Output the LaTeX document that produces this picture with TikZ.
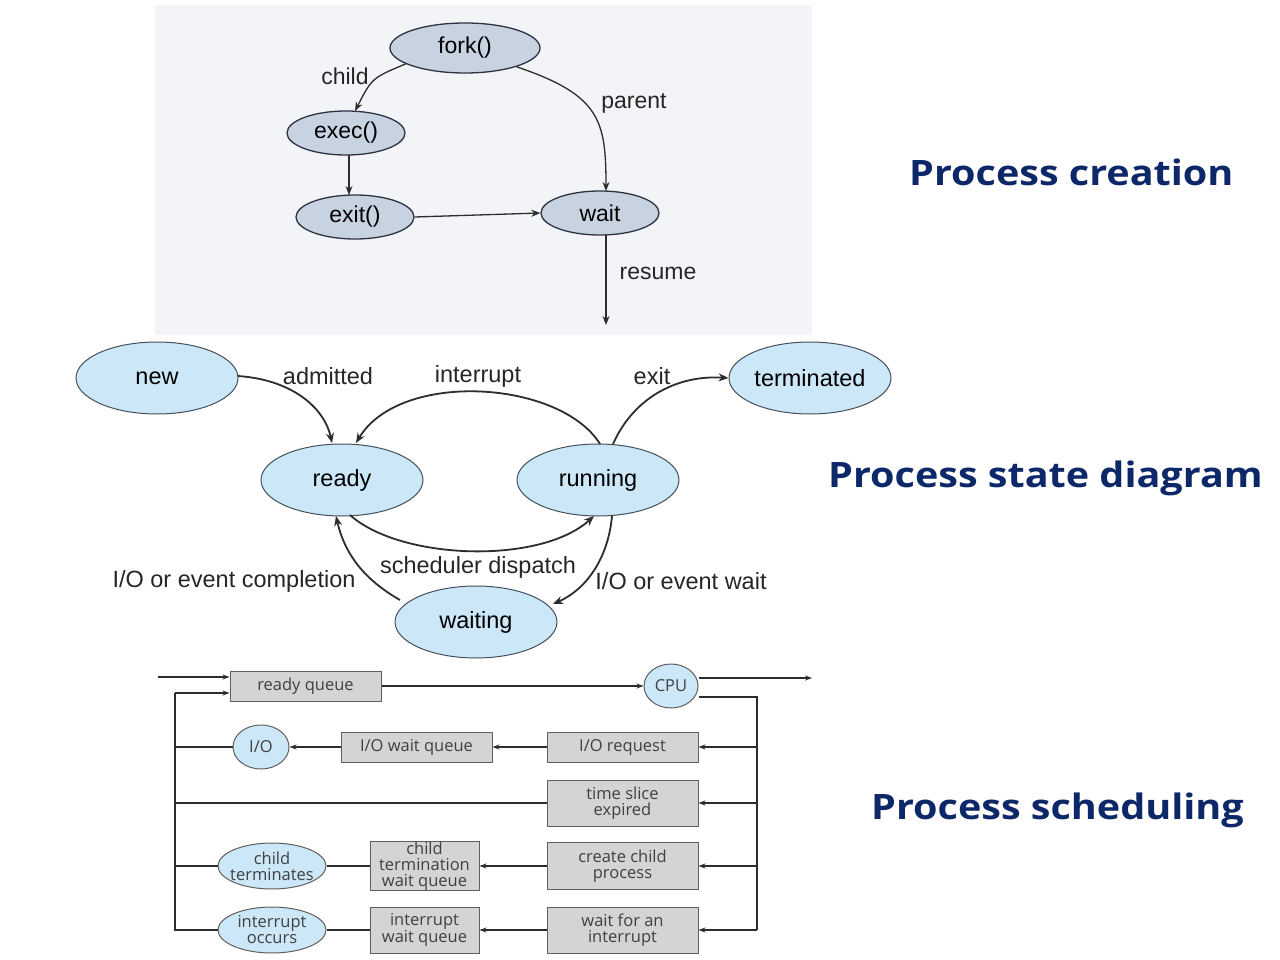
\documentclass[tikz,border=0pt]{standalone}
\usepackage{fontspec}
\setmainfont{Liberation Sans}
\newfontfamily\titlefont{Open Sans}[FakeStretch=1.13]
\newfontfamily\schedfont{Open Sans}
\usetikzlibrary{shapes.geometric,arrows.meta}
\definecolor{navy}{RGB}{13,40,105}
\definecolor{pcfill}{RGB}{200,211,226}
\definecolor{pcedge}{RGB}{45,50,65}
\definecolor{stfill}{RGB}{204,232,248}
\definecolor{stedge}{RGB}{70,80,90}
\definecolor{bgbox}{RGB}{243,244,248}
\definecolor{qfill}{RGB}{212,212,212}
\definecolor{qedge}{RGB}{95,95,95}
\definecolor{ln}{RGB}{45,45,45}
\tikzset{
  pcnode/.style={ellipse, draw=pcedge, line width=1.3pt, fill=pcfill, inner sep=0pt, font=\fontsize{23}{25}\selectfont},
  stnode/.style={ellipse, draw=stedge, line width=1pt, fill=stfill, inner sep=0pt, minimum width=162pt, minimum height=72pt, font=\fontsize{23.5}{25}\selectfont},
  lbl/.style={inner sep=0pt, font=\fontsize{23}{25}\selectfont, text=black!85},
  stlbl/.style={inner sep=0pt, font=\fontsize{23.5}{25}\selectfont, text=black!85},
  pcarrow/.style={-{Stealth[length=9pt,width=7pt]}, line width=1.3pt, draw=ln},
  starrow/.style={-{Stealth[length=10pt,width=8pt]}, line width=1.8pt, draw=ln},
  qbox/.style={rectangle, draw=qedge, line width=1pt, fill=qfill, inner sep=0pt, align=center, font=\schedfont\fontsize{16.5}{16}\selectfont, text=black!75},
  qcirc/.style={ellipse, draw=qedge, line width=1pt, fill=stfill, inner sep=0pt, align=center, font=\schedfont\fontsize{16.5}{16}\selectfont, text=black!75},
  qline/.style={line width=1.6pt, draw=ln},
  qarrow/.style={-{Stealth[length=7pt,width=5pt]}, line width=1.6pt, draw=ln},
  title/.style={inner sep=0pt, anchor=west, text=navy, font=\titlefont\bfseries\fontsize{35}{40}\selectfont},
}
\begin{document}
\begin{tikzpicture}[x=1pt,y=-1pt]
\useasboundingbox (0,0) rectangle (1280,960);
\fill[white] (0,0) rectangle (1280,960);
% ---------- Process creation ----------
\fill[bgbox] (155,5) rectangle (812,335);
\node[pcnode, minimum width=150pt, minimum height=50pt] (fork) at (465,48) {fork()};
\node[pcnode, minimum width=118pt, minimum height=44pt] (exec) at (346,133) {exec()};
\node[pcnode, minimum width=118pt, minimum height=44pt] (exit) at (355,217) {exit()};
\node[pcnode, minimum width=118pt, minimum height=44pt] (wait) at (600,213) {wait};
\coordinate (resumeend) at (606,325);
\draw[pcarrow] (fork.195) .. controls (372,78) .. (355,111);
\draw[pcarrow] (fork.-20) .. controls (600,95) and (606,120) .. (606,191);
\draw[pcarrow] (349,155) -- (349,195);
\draw[pcarrow] (exit.east) -- (wait.west);
\draw[pcarrow] (606,235) -- (resumeend);
\node[lbl] at (345,76) {child};
\node[lbl] at (634,103) {parent};
\node[lbl] at (658,273) {resume};
% ---------- Process state diagram ----------
\node[stnode] (new) at (157,378) {new};
\node[stnode] (term) at (810,378) {terminated};
\node[stnode] (ready) at (342,480) {ready};
\node[stnode] (run) at (598,480) {running};
\node[stnode] (waiting) at (476,622) {waiting};
\draw[starrow] (238,376) .. controls (295,380) and (325,410) .. (332,443);
\draw[starrow] (600,444) .. controls (560,380) and (400,370) .. (356,443);
\draw[starrow] (613,444) .. controls (635,395) and (680,375) .. (term.west);
\draw[starrow] (350,515) .. controls (400,560) and (540,565) .. (594,516);
\draw[starrow] (612,516) .. controls (608,560) and (585,590) .. (553,604);
\draw[starrow] (400,600) .. controls (365,580) and (345,555) .. (336,516);
\node[stlbl] at (328,376) {admitted};
\node[stlbl] at (478,376) {interrupt};
\node[stlbl] at (652,376) {exit};
\node[stlbl] at (478,567) {scheduler dispatch};
\node[stlbl] at (234,581) {I/O or event completion};
\node[stlbl] at (681,581) {I/O or event wait};
% ---------- Process scheduling ----------
\node[qbox, minimum width=151pt, minimum height=30pt] (rq) at (305.5,686) {ready queue};
\node[qcirc, minimum width=54pt, minimum height=44pt] (cpu) at (671,686) {CPU};
\node[qbox, minimum width=151pt, minimum height=30pt] (ioreq) at (622.5,747) {I/O request};
\node[qbox, minimum width=151pt, minimum height=46pt] (ts) at (622.5,803) {time slice\\expired};
\node[qbox, minimum width=151pt, minimum height=47pt] (cc) at (622.5,866) {create child\\process};
\node[qbox, minimum width=151pt, minimum height=46pt] (wi) at (622.5,930) {wait for an\\interrupt};
\node[qbox, minimum width=151pt, minimum height=30pt] (iowq) at (416.5,747) {I/O wait queue};
\node[qbox, minimum width=109pt, minimum height=47pt] (ctwq) at (424.5,866) {child\\termination\\wait queue};
\node[qbox, minimum width=109pt, minimum height=46pt] (iwq) at (424.5,930) {interrupt\\wait queue};
\node[qcirc, minimum width=56pt, minimum height=44pt] (io) at (261,747) {I/O};
\node[qcirc, minimum width=108pt, minimum height=46pt, inner xsep=-6pt, inner ysep=-4pt] (ct) at (272,866) {child\\terminates};
\node[qcirc, minimum width=108pt, minimum height=46pt, inner xsep=-6pt, inner ysep=-4pt] (io2) at (272,930) {interrupt\\occurs};
\coordinate (inA) at (158,677);
\coordinate (outA) at (812,678);
\coordinate (rbus) at (757,697);
\coordinate (lbus) at (175,693);
\draw[qarrow] (inA) -- (rq.west |- inA);
\draw[qarrow] (rq.east) -- (cpu.west);
\draw[qarrow] (cpu.east |- outA) -- (outA);
\draw[qline] (cpu.east |- rbus) -- (rbus) -- (757,930);
\draw[qarrow] (757,747) -- (ioreq.east);
\draw[qarrow] (757,803) -- (ts.east);
\draw[qarrow] (757,866) -- (cc.east);
\draw[qarrow] (757,930) -- (wi.east);
\draw[qarrow] (ioreq.west) -- (iowq.east);
\draw[qarrow] (iowq.west) -- (io.east);
\draw[qarrow] (cc.west) -- (ctwq.east);
\draw[qarrow] (wi.west) -- (iwq.east);
\draw[qline] (ctwq.west) -- (ct.east);
\draw[qline] (iwq.west) -- (io2.east);
\draw[qline] (io.west) -- (175,747);
\draw[qline] (ts.west) -- (175,803);
\draw[qline] (ct.west) -- (175,866);
\draw[qline] (io2.west) -- (175,930) -- (lbus);
\draw[qarrow] (lbus) -- (rq.west |- lbus);
% ---------- Titles ----------
\node[title] (t1) at (909,172) {Process creation};
\node[title] (t2) at (828,478) {Process state diagram};
\node[title] (t3) at (871,810) {Process scheduling};
\end{tikzpicture}
\end{document}
